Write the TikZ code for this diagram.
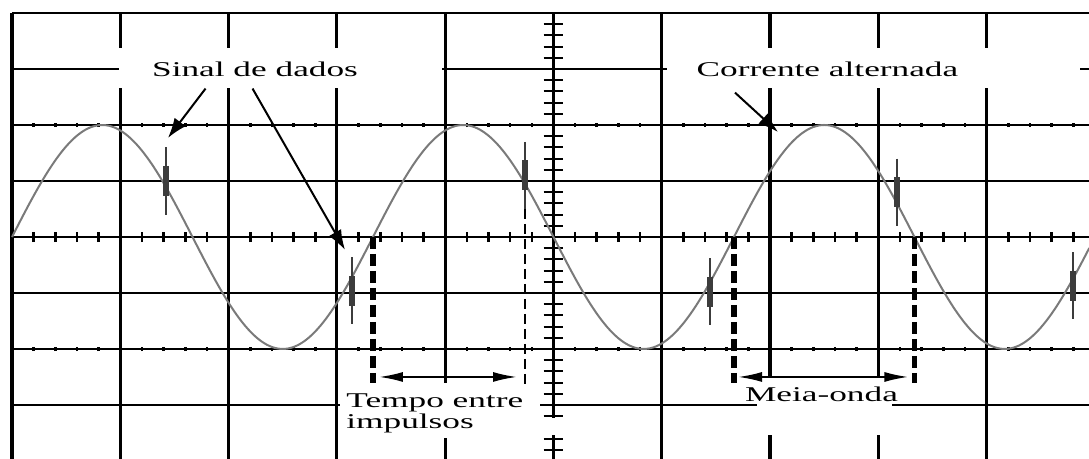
\documentclass[tikz,border=0pt]{standalone}
\usepackage{fontspec}
\setmainfont{Liberation Serif}[FakeStretch=1.68]
\usetikzlibrary{arrows.meta, calc}
\definecolor{tracegray}{HTML}{7A7A7A}
\definecolor{pulsegray}{HTML}{3C3C3C}

\begin{document}
\begin{tikzpicture}[
  x=54.15pt, y=28pt,
  font=\fontsize{10.5}{10.5}\selectfont,
  vline/.style={line width=1.6pt},
  hline/.style={line width=1.1pt},
  tick/.style={line width=1.3pt},
  trace/.style={tracegray, line width=1pt},
  pulse/.style={pulsegray, line width=1.3pt},
  pulsecore/.style={pulsegray, line width=3pt},
  mask/.style={fill=white},
  lbl/.style={inner sep=0pt, anchor=base},
  callout/.style={-{Latex[length=10pt,width=7pt]}, line width=1pt},
  span/.style={{Latex[length=12pt,width=5pt]}-{Latex[length=12pt,width=5pt]}, line width=1pt},
  cursor/.style={dash pattern=on 6pt off 2.5pt, line width=2.6pt},
  marker/.style={dash pattern=on 5pt off 2.5pt, line width=1pt}
]
  \useasboundingbox (-5.111,-3.964) rectangle (4.945,4.232);
  \clip (-5.111,-3.964) rectangle (4.945,4.232);

  % graticule
  \foreach \gx in {-5,...,5} \draw[vline] (\gx,-4) -- (\gx,4);
  \foreach \gy in {-4,...,4} \draw[hline] (-5,\gy) -- (5,\gy);
  \foreach \t in {-4.8,-4.6,...,4.9} {
    \draw[tick] (\t,-0.09) -- (\t,0.09);
    \draw[tick] (\t,1.96) -- (\t,2.04);
    \draw[tick] (\t,-2.04) -- (\t,-1.96);
  }
  \foreach \t in {-3.8,-3.6,...,3.9} \draw[tick, line width=1pt] (-0.092,\t) -- (0.092,\t);

  % white patches behind the labels
  \fill[mask] (-4.012,2.661) rectangle (-1.03,3.375);
  \fill[mask] (1.048,2.661) rectangle (4.861,3.375);
  \fill[mask] (-1.97,-2.607) rectangle (-0.125,-3.589);
  \fill[mask] (-0.12,-3.232) rectangle (0.12,-3.536);
  \fill[mask] (1.879,-2.518) rectangle (3.126,-3.536);

  % mains trace with data pulses
  \draw[trace, domain=-5:4.95, samples=200, smooth] plot (\x, {2*sin(108*(\x+5))});
  \foreach \px/\c in {-3.578/1.0, -1.861/-0.96, -0.263/1.1, 1.445/-0.98, 3.172/0.8, 4.797/-0.87} {
    \draw[pulse] (\px,{\c+0.6}) -- (\px,{\c-0.6});
    \draw[pulsecore] (\px,{\c+0.27}) -- (\px,{\c-0.27});
  }

  % cursors
  \coordinate (tA) at (-1.667,-2.5);
  \coordinate (tB) at (-0.263,-2.5);
  \coordinate (mA) at (1.667,-2.5);
  \coordinate (mB) at (3.333,-2.5);
  \draw[cursor] (-1.667,0) -- (-1.667,-2.6);
  \draw[marker] (-0.263,0.5) -- (-0.263,-2.7);
  \draw[cursor] (1.667,0) -- (1.667,-2.6);
  \draw[cursor] (3.333,0) -- (3.333,-2.6);
  \draw[span, shorten <=3pt, shorten >=4pt] (tA) -- (tB);
  \draw[span, shorten <=2pt, shorten >=3pt] (mA) -- (mB);

  \node[lbl] (sinal) at (-2.756,2.857) {Sinal de dados};
  \node[lbl] (corrente) at (2.53,2.857) {Corrente alternada};
  \node[lbl, anchor=north west, align=left] (tempo) at (-1.916,-2.786) {Tempo entre\\impulsos};
  \node[lbl] (meia) at (2.475,-2.946) {Meia-onda};

  \coordinate (d1) at (-3.56,1.768);
  \coordinate (d2) at (-1.925,-0.232);
  \coordinate (ac) at (2.073,1.875);
  \draw[callout] ([shift={(-0.457,-0.196)}]sinal.south) -- (d1);
  \draw[callout] ([shift={(-0.023,-0.196)}]sinal.south) -- (d2);
  \draw[callout] ([shift={(-0.854,-0.268)}]corrente.south) -- (ac);
\end{tikzpicture}
\end{document}
